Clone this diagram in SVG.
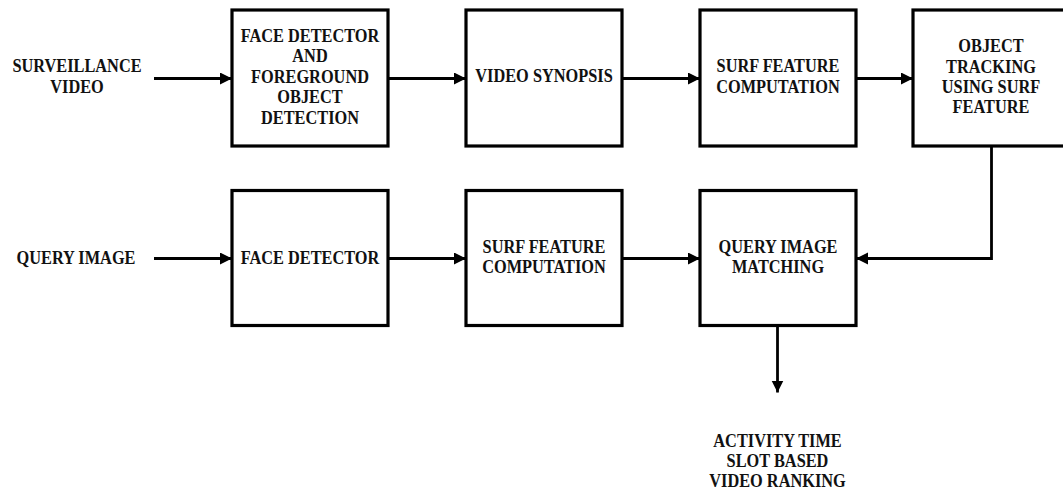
<svg xmlns="http://www.w3.org/2000/svg" width="1063" height="492" viewBox="0 0 1063 492">
  <style>
    .box { fill: #ffffff; stroke: #000000; stroke-width: 3.2; }
    .wire { fill: none; stroke: #000000; stroke-width: 2.8; }
    .t { font-family: "Liberation Serif", "Times New Roman", serif; font-weight: bold; font-size: 19px; fill: #111111; text-anchor: middle; }
  </style>
  <defs>
    <marker id="arrow" markerUnits="userSpaceOnUse" markerWidth="13" markerHeight="13" refX="12" refY="6" orient="auto">
      <path d="M0,0 L12,6 L0,12 z" fill="#000000"/>
    </marker>
  </defs>
  <rect width="1063" height="492" fill="#ffffff"/>

  <!-- input labels -->
  <g id="surveillance-video">
    <text class="t" transform="translate(77,0) scale(0.86,1)"><tspan x="0" y="72.5">SURVEILLANCE</tspan><tspan x="0" y="93">VIDEO</tspan></text>
  </g>
  <g id="query-image">
    <text class="t" transform="translate(76,0) scale(0.86,1)"><tspan x="0" y="264.5">QUERY IMAGE</tspan></text>
  </g>

  <!-- top row -->
  <g id="face-fg-detection">
    <rect class="box" x="232" y="10" width="156" height="136"/>
    <text class="t" transform="translate(310,0) scale(0.86,1)"><tspan x="0" y="41.7">FACE DETECTOR</tspan><tspan x="0" y="62.3">AND</tspan><tspan x="0" y="82.8">FOREGROUND</tspan><tspan x="0" y="103.4">OBJECT</tspan><tspan x="0" y="124">DETECTION</tspan></text>
  </g>
  <g id="video-synopsis">
    <rect class="box" x="466" y="10" width="156" height="136"/>
    <text class="t" transform="translate(544,0) scale(0.86,1)"><tspan x="0" y="82">VIDEO SYNOPSIS</tspan></text>
  </g>
  <g id="surf-top">
    <rect class="box" x="700" y="10" width="156" height="136"/>
    <text class="t" transform="translate(778,0) scale(0.86,1)"><tspan x="0" y="72.4">SURF FEATURE</tspan><tspan x="0" y="92.8">COMPUTATION</tspan></text>
  </g>
  <g id="object-tracking">
    <rect class="box" x="913" y="10" width="156" height="136"/>
    <text class="t" transform="translate(991,0) scale(0.86,1)"><tspan x="0" y="52.3">OBJECT</tspan><tspan x="0" y="72.7">TRACKING</tspan><tspan x="0" y="92.8">USING SURF</tspan><tspan x="0" y="113.3">FEATURE</tspan></text>
  </g>

  <!-- bottom row -->
  <g id="face-detector">
    <rect class="box" x="232" y="190.5" width="156" height="135"/>
    <text class="t" transform="translate(310,0) scale(0.86,1)"><tspan x="0" y="264.5">FACE DETECTOR</tspan></text>
  </g>
  <g id="surf-bottom">
    <rect class="box" x="466" y="190.5" width="156" height="135"/>
    <text class="t" transform="translate(544,0) scale(0.86,1)"><tspan x="0" y="252.7">SURF FEATURE</tspan><tspan x="0" y="272.8">COMPUTATION</tspan></text>
  </g>
  <g id="query-matching">
    <rect class="box" x="700" y="190.5" width="156" height="135"/>
    <text class="t" transform="translate(778,0) scale(0.86,1)"><tspan x="0" y="252.7">QUERY IMAGE</tspan><tspan x="0" y="272.8">MATCHING</tspan></text>
  </g>

  <!-- output label -->
  <g id="video-ranking">
    <text class="t" transform="translate(777.5,0) scale(0.86,1)"><tspan x="0" y="446.7">ACTIVITY TIME</tspan><tspan x="0" y="466.7">SLOT BASED</tspan><tspan x="0" y="486.7">VIDEO RANKING</tspan></text>
  </g>

  <!-- connectors -->
  <g id="connectors">
    <line class="wire" x1="154" y1="78.5" x2="232" y2="78.5" marker-end="url(#arrow)"/>
    <line class="wire" x1="388" y1="78.5" x2="466" y2="78.5" marker-end="url(#arrow)"/>
    <line class="wire" x1="622" y1="78.5" x2="700" y2="78.5" marker-end="url(#arrow)"/>
    <line class="wire" x1="856" y1="78.5" x2="913" y2="78.5" marker-end="url(#arrow)"/>
    <line class="wire" x1="154" y1="258.5" x2="232" y2="258.5" marker-end="url(#arrow)"/>
    <line class="wire" x1="388" y1="258.5" x2="466" y2="258.5" marker-end="url(#arrow)"/>
    <line class="wire" x1="622" y1="258.5" x2="700" y2="258.5" marker-end="url(#arrow)"/>
    <polyline class="wire" points="991.5,146 991.5,258.5 856,258.5" marker-end="url(#arrow)"/>
    <line class="wire" x1="777.5" y1="325.5" x2="777.5" y2="392.5" marker-end="url(#arrow)"/>
  </g>
</svg>
